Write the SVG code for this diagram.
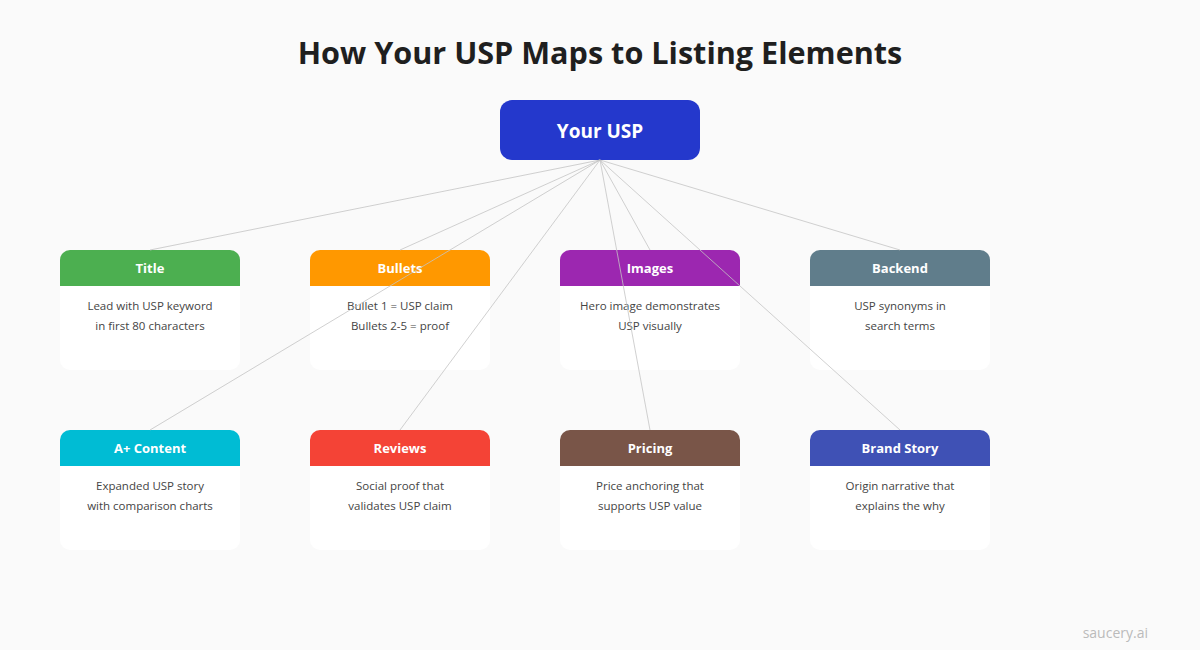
<svg xmlns="http://www.w3.org/2000/svg" width="1200" height="650" viewBox="0 0 1200 650">
<defs>
<style>
.ttl{font-family:"Open Sans","Noto Sans",sans-serif;font-weight:700;font-size:30.6px;fill:#1f1f1f;text-anchor:middle}
.usp{font-family:"Open Sans","Noto Sans",sans-serif;font-weight:700;font-size:19px;fill:#fff;text-anchor:middle}
.hd{font-family:"Open Sans","Noto Sans",sans-serif;font-weight:700;font-size:13px;fill:#fff;text-anchor:middle}
.bd{font-family:"Open Sans","Noto Sans",sans-serif;font-size:11.5px;fill:#444;text-anchor:middle}
.card{fill:#fff}
.conn line{stroke:#c4c4c4;stroke-width:0.8}
</style>
</defs>
<rect width="1200" height="650" fill="#fafafa"/>
<text class="ttl" x="600" y="64">How Your USP Maps to Listing Elements</text>
<g id="usp">
<rect x="500" y="100" width="200" height="60" rx="12" fill="#2438cc"/>
<text class="usp" x="600" y="138">Your USP</text>
</g>
<g id="title">
<rect class="card" x="60" y="250" width="180" height="120" rx="10"/>
<path d="M60 286V260a10 10 0 0 1 10-10h160a10 10 0 0 1 10 10v26z" fill="#4caf50"/>
<text class="hd" x="150" y="273">Title</text>
<text class="bd" x="150" y="310">Lead with USP keyword</text>
<text class="bd" x="150" y="330">in first 80 characters</text>
</g>
<g id="bullets">
<rect class="card" x="310" y="250" width="180" height="120" rx="10"/>
<path d="M310 286V260a10 10 0 0 1 10-10h160a10 10 0 0 1 10 10v26z" fill="#ff9800"/>
<text class="hd" x="400" y="273">Bullets</text>
<text class="bd" x="400" y="310">Bullet 1 = USP claim</text>
<text class="bd" x="400" y="330">Bullets 2-5 = proof</text>
</g>
<g id="images">
<rect class="card" x="560" y="250" width="180" height="120" rx="10"/>
<path d="M560 286V260a10 10 0 0 1 10-10h160a10 10 0 0 1 10 10v26z" fill="#9c27b0"/>
<text class="hd" x="650" y="273">Images</text>
<text class="bd" x="650" y="310">Hero image demonstrates</text>
<text class="bd" x="650" y="330">USP visually</text>
</g>
<g id="backend">
<rect class="card" x="810" y="250" width="180" height="120" rx="10"/>
<path d="M810 286V260a10 10 0 0 1 10-10h160a10 10 0 0 1 10 10v26z" fill="#607d8b"/>
<text class="hd" x="900" y="273">Backend</text>
<text class="bd" x="900" y="310">USP synonyms in</text>
<text class="bd" x="900" y="330">search terms</text>
</g>
<g id="aplus">
<rect class="card" x="60" y="430" width="180" height="120" rx="10"/>
<path d="M60 466V440a10 10 0 0 1 10-10h160a10 10 0 0 1 10 10v26z" fill="#00bcd4"/>
<text class="hd" x="150" y="453">A+ Content</text>
<text class="bd" x="150" y="490">Expanded USP story</text>
<text class="bd" x="150" y="510">with comparison charts</text>
</g>
<g id="reviews">
<rect class="card" x="310" y="430" width="180" height="120" rx="10"/>
<path d="M310 466V440a10 10 0 0 1 10-10h160a10 10 0 0 1 10 10v26z" fill="#f44336"/>
<text class="hd" x="400" y="453">Reviews</text>
<text class="bd" x="400" y="490">Social proof that</text>
<text class="bd" x="400" y="510">validates USP claim</text>
</g>
<g id="pricing">
<rect class="card" x="560" y="430" width="180" height="120" rx="10"/>
<path d="M560 466V440a10 10 0 0 1 10-10h160a10 10 0 0 1 10 10v26z" fill="#795548"/>
<text class="hd" x="650" y="453">Pricing</text>
<text class="bd" x="650" y="490">Price anchoring that</text>
<text class="bd" x="650" y="510">supports USP value</text>
</g>
<g id="brandstory">
<rect class="card" x="810" y="430" width="180" height="120" rx="10"/>
<path d="M810 466V440a10 10 0 0 1 10-10h160a10 10 0 0 1 10 10v26z" fill="#3f51b5"/>
<text class="hd" x="900" y="453">Brand Story</text>
<text class="bd" x="900" y="490">Origin narrative that</text>
<text class="bd" x="900" y="510">explains the why</text>
</g>
<g id="connectors" class="conn">
<line x1="600" y1="160" x2="150" y2="250"/>
<line x1="600" y1="160" x2="400" y2="250"/>
<line x1="600" y1="160" x2="650" y2="250"/>
<line x1="600" y1="160" x2="900" y2="250"/>
<line x1="600" y1="160" x2="150" y2="430"/>
<line x1="600" y1="160" x2="400" y2="430"/>
<line x1="600" y1="160" x2="650" y2="430"/>
<line x1="600" y1="160" x2="900" y2="430"/>
</g>
<text x="1148" y="638" text-anchor="end" font-family="Open Sans,Noto Sans,sans-serif" font-size="14" fill="#bbb">saucery.ai</text>
</svg>
